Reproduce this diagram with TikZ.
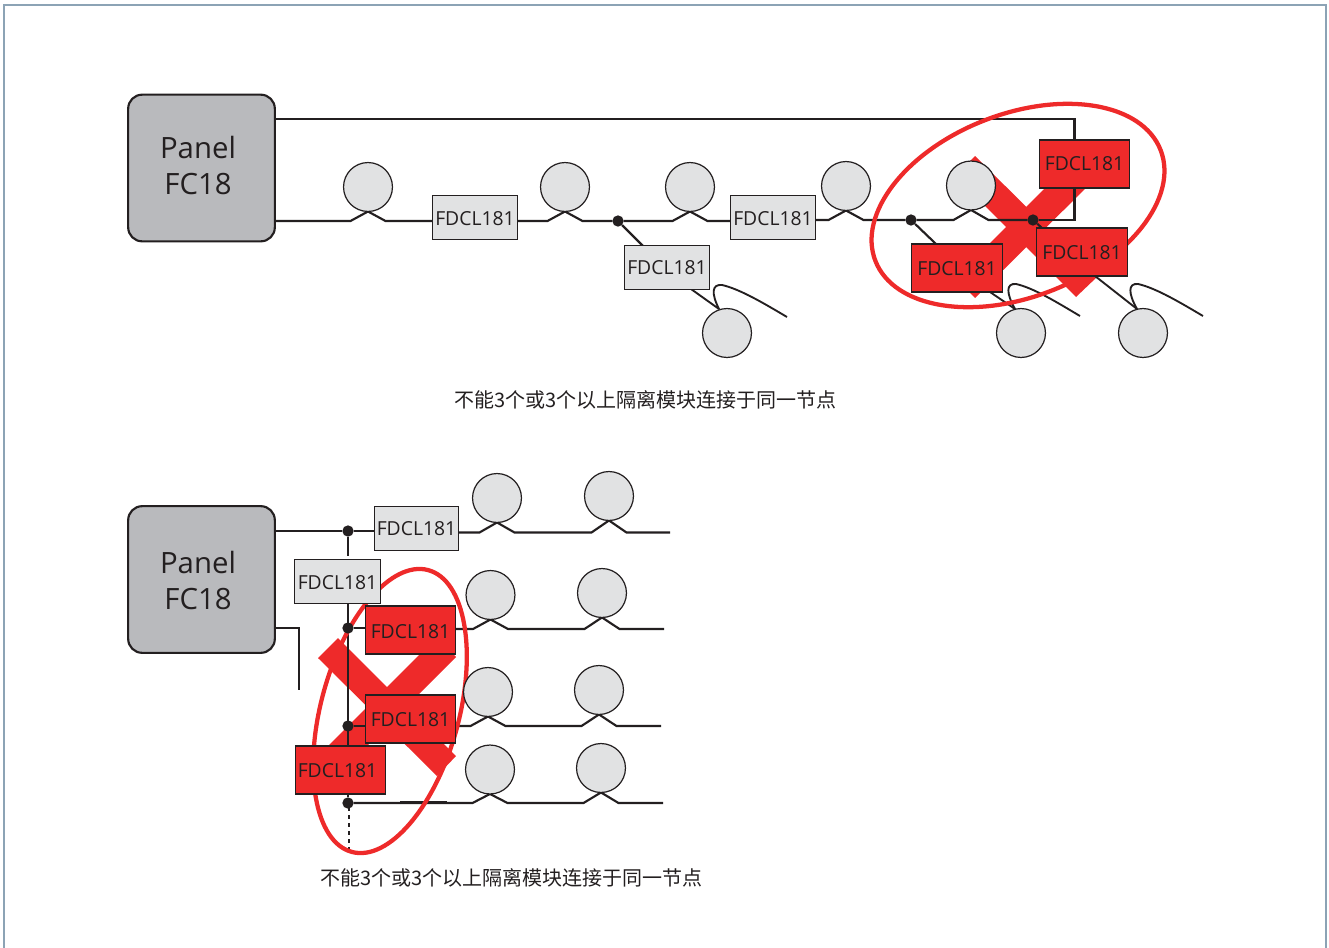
\documentclass[tikz,border=0pt]{standalone}
\usepackage{fontspec}
\setmainfont{Open Sans}
\newfontfamily\cjk{Noto Sans CJK SC}
\usetikzlibrary{calc}
\definecolor{ink}{HTML}{231F20}
\definecolor{alarm}{HTML}{EE2A2A}
\definecolor{pale}{HTML}{E1E2E3}
\definecolor{panelgray}{HTML}{B9BABD}
\definecolor{framec}{HTML}{8CA3B5}
\pgfdeclarelayer{xmark}\pgfdeclarelayer{wires}\pgfdeclarelayer{ring}
\pgfsetlayers{xmark,wires,ring,main}
\tikzset{
  x=0.75pt,y=-0.75pt,
  panel/.style={draw=ink,line width=1.6pt,fill=panelgray,rounded corners=10.5pt,minimum width=110pt,minimum height=110pt,inner sep=0pt,outer sep=0pt},
  paneltext/.style={inner sep=0pt,align=center,text=ink,font=\fontsize{22}{27}\selectfont},
  mod/.style={draw=ink,line width=0.8pt,inner sep=0pt,outer sep=0pt,minimum width=63.5pt,minimum height=32.5pt,fill=pale,text=ink,text height=11.9pt,text depth=0pt,font=\fontsize{14.5}{16}\selectfont},
  badmod/.style={mod,fill=alarm,minimum width=68pt,minimum height=36pt},
  det/.style={circle,draw=ink,line width=0.9pt,fill=pale,minimum size=36.7pt,inner sep=0pt,outer sep=0pt},
  wire/.style={draw=ink,line width=1.6pt},
  thin wire/.style={draw=ink,line width=1.4pt},
  jn/.style={circle,fill=ink,minimum size=8.5pt,inner sep=0pt,outer sep=0pt},
  ringst/.style={draw=alarm,line width=3.2pt},
  captxt/.style={text=ink,font=\cjk\fontsize{15}{18}\selectfont,inner sep=0pt},
}
\newcommand\dip[2]{-- ($(#1.south |- 0,#2)+(-17.5,0)$) -- (#1.south) -- ($(#1.south |- 0,#2)+(17.5,0)$)}
\begin{document}
\begin{tikzpicture}
\useasboundingbox (0,0) rectangle (1329,947);
\draw[framec,line width=1.4pt] (4,960) -- (4,5) -- (1326,5) -- (1326,960);

% ---------- upper diagram ----------
\node[panel] (pa) at (201.5,168) {};
\node[paneltext] (pat) at (198,165) {Panel\\FC18};
\node[mod] (ma) at (475,217.5) {FDCL181};
\node[mod,text height=10.4pt] (mb) at (667,267.5) {FDCL181};
\node[mod] (mc) at (773,217.5) {FDCL181};
\node[badmod,text height=10.4pt] (ra) at (1084.5,164) {FDCL181};
\node[badmod] (rb) at (957,268) {FDCL181};
\node[badmod] (rc) at (1082,252) {FDCL181};
\node[det] (d1) at (368,187) {};
\node[det] (d2) at (565,187) {};
\node[det] (d3) at (690,187) {};
\node[det] (d4) at (846,186) {};
\node[det] (d5) at (971,185.5) {};
\node[det] (d6) at (727,333) {};
\node[det] (d7) at (1021,333) {};
\node[det] (d8) at (1143,333) {};
\node[jn] (j1) at (618,221) {};
\node[jn] (j2) at (911,220) {};
\node[jn] (j3) at (1033,220) {};

\begin{pgfonlayer}{xmark}
\fill[alarm] (975,156) -- (955,176) -- (1076,297) -- (1097,277) -- cycle;
\fill[alarm] (1075,158) -- (1095,179) -- (975,298) -- (955,278) -- cycle;
\end{pgfonlayer}
\begin{pgfonlayer}{wires}
\path[wire] (pa.east |- 0,119) -- (1074.5,119) -- (1074.5,140);
\path[wire] (1074.5,188) -- (1074.5,220) -- (j3);
\path[wire] (pa.east |- 0,221) \dip{d1}{221} -- (ma.west |- 0,221);
\path[wire] (ma.east |- 0,221) \dip{d2}{221} -- (j1) \dip{d3}{221} -- (mc.west |- 0,221);
\path[wire] (mc.east |- 0,220) \dip{d4}{220} -- (j2) \dip{d5}{220} -- (j3);
\path[wire] (j1) -- (643,246);
\path[wire] (j2) -- (936,244);
\path[wire] (j3) -- (1042,228);
\coordinate (s1) at (691,289); \coordinate (e1) at (787,317);
\coordinate (s2) at (990,292); \coordinate (e2) at (1080,316);
\coordinate (s3) at (1095,276); \coordinate (e3) at (1203,316);
\path[thin wire] (s1) -- (719,309);
\path[thin wire] (719,309) .. controls (711,293) and (712,284) .. (722,285) .. controls (740,289) and (765,304) .. (e1);
\path[thin wire] (s2) -- (1015,309);
\path[thin wire] (1015,309) .. controls (1006,293) and (1006,283) .. (1016,284) .. controls (1034,288) and (1058,303) .. (e2);
\path[thin wire] (s3) -- (1137,309);
\path[thin wire] (1137,309) .. controls (1128,293) and (1128,283) .. (1138,284) .. controls (1156,288) and (1181,303) .. (e3);
\end{pgfonlayer}
\begin{pgfonlayer}{ring}
\begin{scope}[shift={(1018,205.5)},rotate=21.2]
\draw[ringst] (0,0) ellipse [x radius=153,y radius=91.5];
\end{scope}
\end{pgfonlayer}
\node[captxt,anchor=west] (c1) at (454,400) {不能3个或3个以上隔离模块连接于同一节点};

% ---------- lower diagram ----------
\node[panel] (pb) at (201.5,579.5) {};
\node[paneltext] (pbt) at (198,580) {Panel\\FC18};
\node[mod,text height=10.4pt] (m1) at (416.5,528.5) {FDCL181};
\node[mod,minimum width=64pt] (m2) at (337.5,581.5) {FDCL181};
\node[badmod,text height=12.8pt] (r1) at (410.5,630) {FDCL181};
\node[badmod] (r2) at (410.5,719) {FDCL181};
\node[badmod] (r3) at (340.5,770) {FDCL181\hspace*{4.5pt}};
\node[det] (e1a) at (497,498) {};
\node[det] (e1b) at (609,496) {};
\node[det] (e2a) at (490.5,595) {};
\node[det] (e2b) at (602,593) {};
\node[det] (e3a) at (488,692) {};
\node[det] (e3b) at (599,690) {};
\node[det] (e4a) at (490,769.5) {};
\node[det] (e4b) at (601,768) {};
\node[jn] (k1) at (348,531) {};
\node[jn] (k2) at (348,628) {};
\node[jn] (k3) at (348,726) {};
\node[jn] (k4) at (348,803) {};
\coordinate (w1) at (670,532.5);
\coordinate (w2) at (664,629);
\coordinate (w3) at (661,726);
\coordinate (w4) at (663,803);
\coordinate (stubA) at (299,628);
\coordinate (stubB) at (299,690);
\coordinate (dotA) at (349,807);
\coordinate (dotB) at (349,849);
\coordinate (up) at (348,556);
\coordinate (seamA) at (400,802.3);
\coordinate (seamB) at (447,802.3);

\begin{pgfonlayer}{xmark}
\fill[alarm] (338,638) -- (318,658) -- (437,776) -- (456,756) -- cycle;
\fill[alarm] (437,637) -- (456,657) -- (337,776) -- (317,757) -- cycle;
\end{pgfonlayer}
\begin{pgfonlayer}{wires}
\path[wire] (pb.east |- k1) -- (k1) -- (m1.west |- k1);
\path[wire] (k1) -- (up);
\path[wire] (m1.east |- w1) \dip{e1a}{532.5} \dip{e1b}{532.5} -- (w1);
\path[wire] (m2.south -| k1) -- (k4);
\path[wire] (k2) -- (r1.west |- k2);
\path[wire] (k3) -- (r2.west |- k3);
\path[wire] (r1.east |- w2) \dip{e2a}{629} \dip{e2b}{629} -- (w2);
\path[wire] (r2.east |- w3) \dip{e3a}{726} \dip{e3b}{726} -- (w3);
\path[wire] (k4) \dip{e4a}{803} \dip{e4b}{803} -- (w4);
\path[wire] (seamA) -- (seamB);
\path[wire] (pb.east |- stubA) -- (stubA) -- (stubB);
\draw[ink,line width=1.5pt,dash pattern=on 3pt off 3pt] (dotA) -- (dotB);
\end{pgfonlayer}
\begin{pgfonlayer}{ring}
\begin{scope}[shift={(390,711)},rotate=74.8]
\draw[ringst] (0,0) ellipse [x radius=146,y radius=69];
\end{scope}
\end{pgfonlayer}
\node[captxt,anchor=west] (c2) at (320,878) {不能3个或3个以上隔离模块连接于同一节点};
\end{tikzpicture}
\end{document}
